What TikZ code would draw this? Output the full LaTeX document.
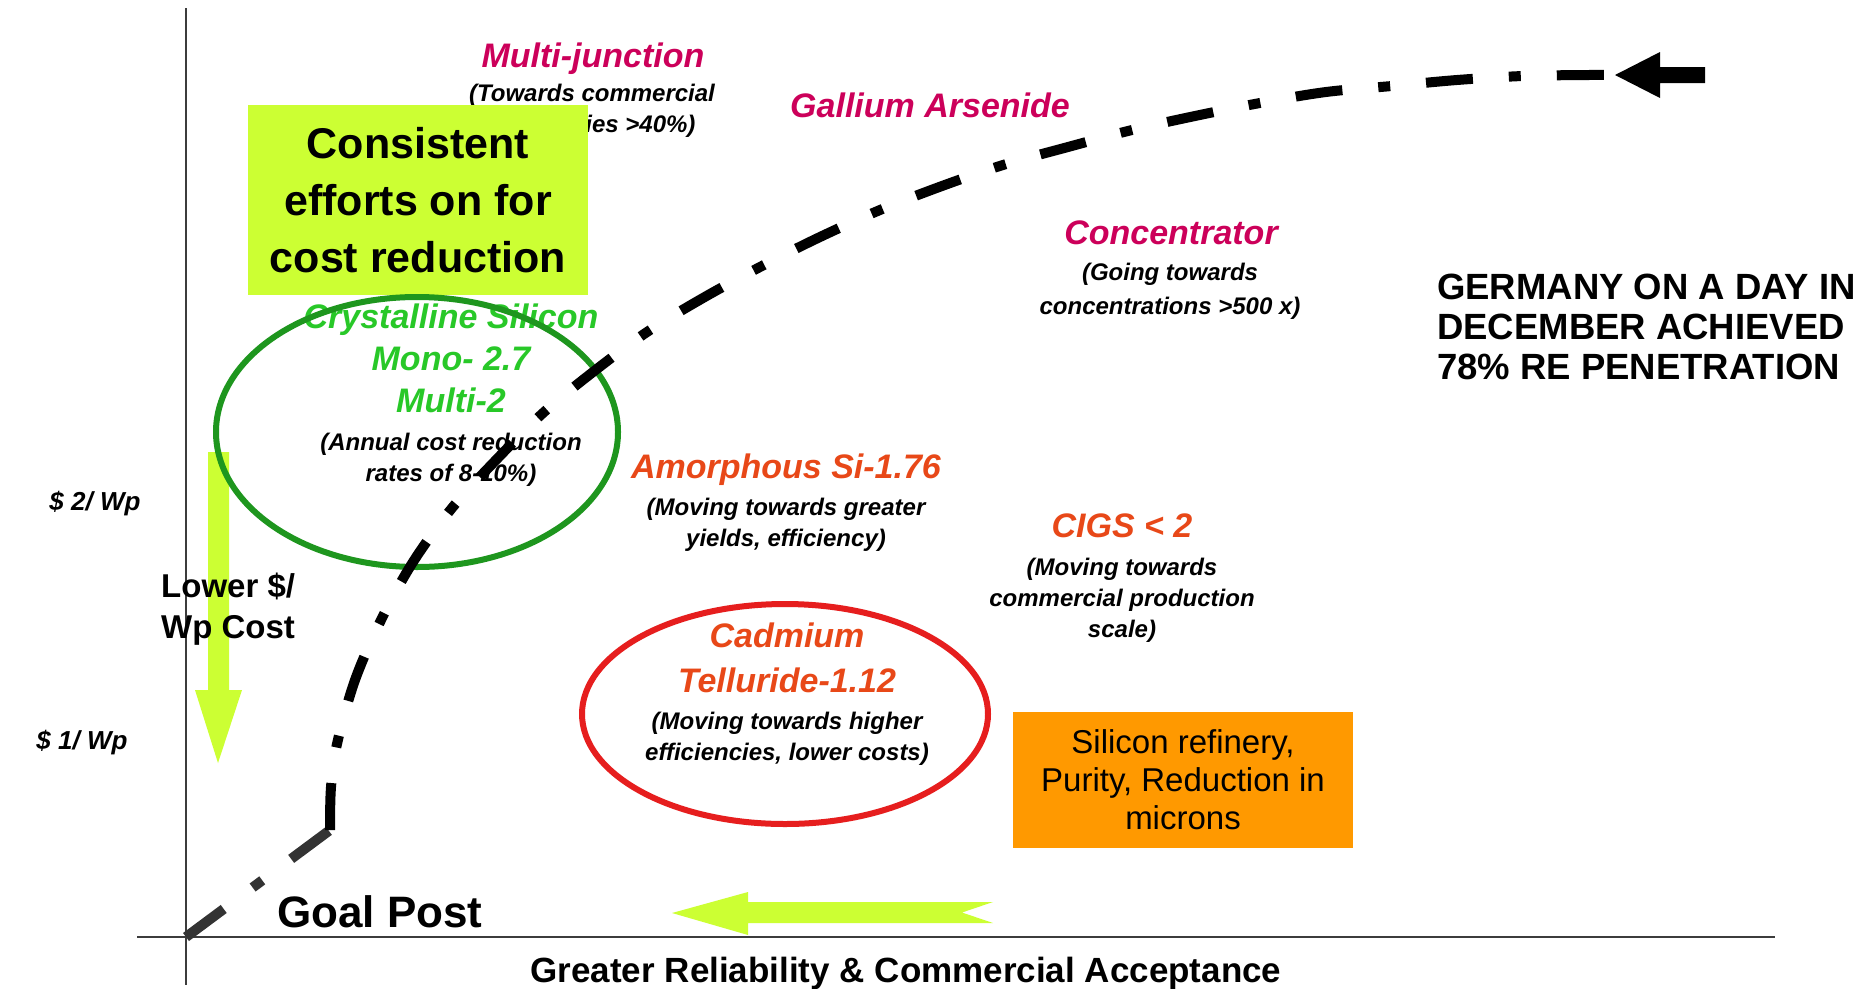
\documentclass[tikz,border=0pt]{standalone}
\usepackage{fontspec}
\setmainfont{Liberation Sans}
\newcommand\myfs[2]{\fontsize{#1}{#2}\selectfont}
\definecolor{limeA}{RGB}{204,255,51}
\definecolor{magT}{RGB}{204,0,90}
\definecolor{orT}{RGB}{232,72,24}
\definecolor{grT}{RGB}{40,200,40}
\definecolor{grE}{RGB}{30,150,30}
\definecolor{redE}{RGB}{230,30,30}
\definecolor{orBox}{RGB}{255,153,0}
\definecolor{axisC}{RGB}{60,60,60}
\pgfdeclareverticalshading{fadearrow}{100bp}{color(0bp)=(limeA); color(75bp)=(limeA); color(100bp)=(limeA!45)}
\begin{document}
\begin{tikzpicture}[x=1pt,y=-1pt,
  title/.style={font=\bfseries\itshape\myfs{34}{45}, align=center, inner sep=0pt},
  sub/.style={font=\bfseries\itshape\myfs{24}{31}, align=center, inner sep=0pt},
  price/.style={font=\bfseries\itshape\myfs{26}{30}, inner sep=0pt},
  big/.style={font=\bfseries\myfs{43}{57}, align=center, inner sep=0pt},
  axisline/.style={axisC, line width=2pt},
  curve/.style={line width=10pt, dash pattern=on 47pt off 36pt on 12pt off 36pt},
  limearrow/.style={fill=limeA, draw=none}]
\useasboundingbox (0,0) rectangle (1867,988);
\fill[white] (0,0) rectangle (1867,988);

% axes
\coordinate (O) at (186,937);
\coordinate (XL) at (137,937);
\coordinate (XR) at (1775,937);
\coordinate (YT) at (186,8);
\coordinate (YB) at (186,985);
\draw[axisline] (XL) -- (XR);
\draw[axisline] (YT) -- (YB);

% green arrows
\shade[shading=fadearrow] (208,452) -- (229,452) -- (229,690) -- (242,690) -- (218,763) -- (195,690) -- (208,690) -- cycle;
\fill[limearrow] (672,913) -- (748,892) -- (748,902) -- (993,902) -- (962,912.5) -- (993,923) -- (748,923) -- (748,935) -- cycle;

% Multi-junction
\node[title, text=magT] (mj) at (593,59) {Multi-junction};
\node[sub] (mjs) at (592,111) {(Towards commercial\\efficiencies >40\%)};

% consistent box
\node[fill=limeA, minimum width=340pt, minimum height=190pt, inner sep=0pt] (box) at (418,200) {};
\node[big] (boxt) at (418,200) {Consistent\\efforts on for\\cost reduction};

% Gallium, Concentrator
\node[title, text=magT] (ga) at (930,105) {Gallium Arsenide};
\node[title, text=magT] (conc) at (1171,233) {Concentrator};
\node[sub, font=\bfseries\itshape\myfs{24}{34}] (concs) at (1170,291) {(Going towards\\concentrations >500 x)};

% Germany
\node[font=\bfseries\myfs{36.5}{40}, align=left, anchor=west, inner sep=0pt] (de) at (1437,327) {GERMANY ON A DAY IN\\DECEMBER ACHIEVED\\78\% RE PENETRATION};

% Crystalline
\node[title, text=grT, font=\bfseries\itshape\myfs{34}{42}] (cs) at (451,358) {Crystalline Silicon\\Mono- 2.7\\Multi-2};
\node[sub] (css) at (451,460) {(Annual cost reduction\\rates of 8-10\%)};
\draw[grE, line width=6pt] (417,432) ellipse [x radius=201, y radius=135];

% Amorphous
\node[title, text=orT] (am) at (786,470) {Amorphous Si-1.76};
\node[sub] (ams) at (786,525) {(Moving towards greater\\yields, efficiency)};

% CIGS
\node[title, text=orT] (cigs) at (1122,526) {CIGS < 2};
\node[sub] (cigss) at (1122,600) {(Moving towards\\commercial production\\scale)};

% Cadmium
\draw[redE, line width=6pt] (785,714) ellipse [x radius=203, y radius=110];
\node[title, text=orT] (cd) at (787,658) {Cadmium\\Telluride-1.12};
\node[sub] (cds) at (787,739) {(Moving towards higher\\efficiencies, lower costs)};

% orange box
\node[fill=orBox, minimum width=340pt, minimum height=136pt, inner sep=0pt] (ob) at (1183,780) {};
\node[font=\myfs{33}{38}, align=center, inner sep=0pt] (obt) at (1183,780) {Silicon refinery,\\Purity, Reduction in\\microns};

% price labels
\node[price] (p2) at (95,504) {\$ 2/ Wp};
\node[price] (p1) at (82,743) {\$ 1/ Wp};

% lower cost
\node[font=\bfseries\myfs{33}{41}, align=left, anchor=west, inner sep=0pt] (low) at (161,609) {Lower \$/\\Wp Cost};

% goal post and axis label
\node[font=\bfseries\myfs{44}{50}, anchor=base west, inner sep=0pt] (goal) at (277,927) {Goal Post};
\node[font=\bfseries\myfs{35}{40}, inner sep=0pt] (xl) at (906,973) {Greater Reliability \& Commercial Acceptance};

% dash-dot curve
\coordinate (K) at (330,830);
\coordinate (E) at (1615,75);
\draw[curve, black!80] (O) -- (K);
\draw[curve] plot[smooth, tension=0.55] coordinates {(330,830) (331,787) (337,744) (355,680) (382,618) (413,562) (452,508) (496,460) (543,413) (593,372) (647,332) (703,298) (760,267) (820,237) (880,210) (942,186) (1003,165) (1068,147) (1132,130) (1195,116) (1260,103) (1326,92) (1392,86) (1457,80) (1523,76) (1589,75) (1615,75)};
% arrow head at the top
\fill[black] (E) -- (1660,52) -- (1660,67) -- (1705,67) -- (1705,83) -- (1660,83) -- (1660,98) -- cycle;
\end{tikzpicture}
\end{document}
